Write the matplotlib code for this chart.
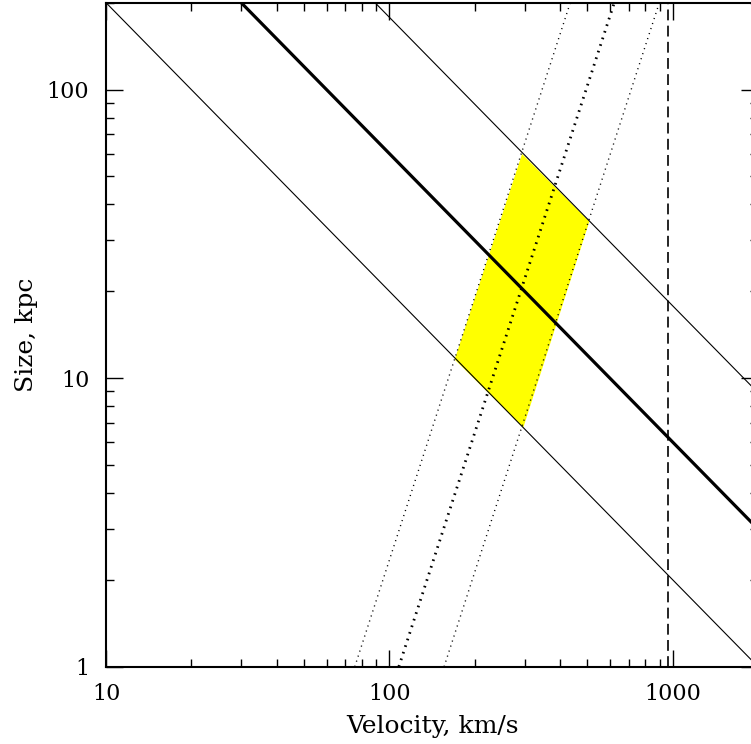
import matplotlib
matplotlib.use("Agg")
import matplotlib.pyplot as plt
from matplotlib.ticker import FixedLocator, FixedFormatter, LogLocator, NullFormatter

# Size-velocity scalings: lines of constant size*velocity
lower_v = [10, 2000]
lower_size = [200, 1]
mid_v = [30, 2000]
mid_size = [200, 3]
upper_v = [89, 2000]
upper_size = [200, 8.9]

# Lines of size ~ velocity^3
cube_left_v = [75.5, 435]
cube_mid_v = [108, 622]
cube_right_v = [156, 897]
cube_size = [1, 200]

# Limiting velocity
v_limit = 963

# Allowed region
region_v = [170, 294, 508, 297]
region_size = [11.6, 59.8, 34.9, 6.74]

x_ticks = [10, 100, 1000]
x_ticklabels = ["10", "100", "1000"]
y_ticks = [1, 10, 100]
y_ticklabels = ["1", "10", "100"]

plt.rcParams["font.family"] = ["DejaVu Serif"]

fig = plt.figure(figsize=(7.51, 7.44), dpi=100)
ax = fig.add_axes([0.14115, 0.1039, 0.8682, 0.8925])
ax.set_xscale("log")
ax.set_yscale("log")
ax.set_xlim(10, 2000)
ax.set_ylim(1, 200)

ax.fill(region_v, region_size, color="#ffff00", lw=0, zorder=1)

ax.plot(lower_v, lower_size, color="black", lw=0.8, zorder=3)
ax.plot(mid_v, mid_size, color="black", lw=2.3, zorder=3)
ax.plot(upper_v, upper_size, color="black", lw=0.8, zorder=3)

thin_dots = dict(color="black", lw=1.0, linestyle=(0, (0.8, 3.0)),
                 dash_capstyle="butt", zorder=3)
ax.plot(cube_left_v, cube_size, **thin_dots)
ax.plot(cube_mid_v, cube_size, color="black", lw=2.0,
        linestyle=(0, (0.6, 1.9)), dash_capstyle="butt", zorder=3)
ax.plot(cube_right_v, cube_size, **thin_dots)

ax.plot([v_limit, v_limit], [1, 200], color="black", lw=1.2,
        linestyle=(0, (6.5, 3.2)), zorder=3)

for s in ax.spines.values():
    s.set_linewidth(1.5)

ax.xaxis.set_major_locator(FixedLocator(x_ticks))
ax.xaxis.set_major_formatter(FixedFormatter(x_ticklabels))
ax.yaxis.set_major_locator(FixedLocator(y_ticks))
ax.yaxis.set_major_formatter(FixedFormatter(y_ticklabels))
ax.xaxis.set_minor_locator(LogLocator(base=10, subs=range(2, 10), numticks=20))
ax.yaxis.set_minor_locator(LogLocator(base=10, subs=range(2, 10), numticks=20))
ax.xaxis.set_minor_formatter(NullFormatter())
ax.yaxis.set_minor_formatter(NullFormatter())

ax.tick_params(which="both", direction="in", top=True, right=True,
               width=1.0, labelsize=16)
ax.tick_params(which="major", length=12, pad=12)
ax.tick_params(which="minor", length=6)

ax.set_xlabel("Velocity, km/s", fontsize=18, labelpad=7)
ax.set_ylabel("Size, kpc", fontsize=18, labelpad=6)

fig.savefig("out.png", dpi=100)
